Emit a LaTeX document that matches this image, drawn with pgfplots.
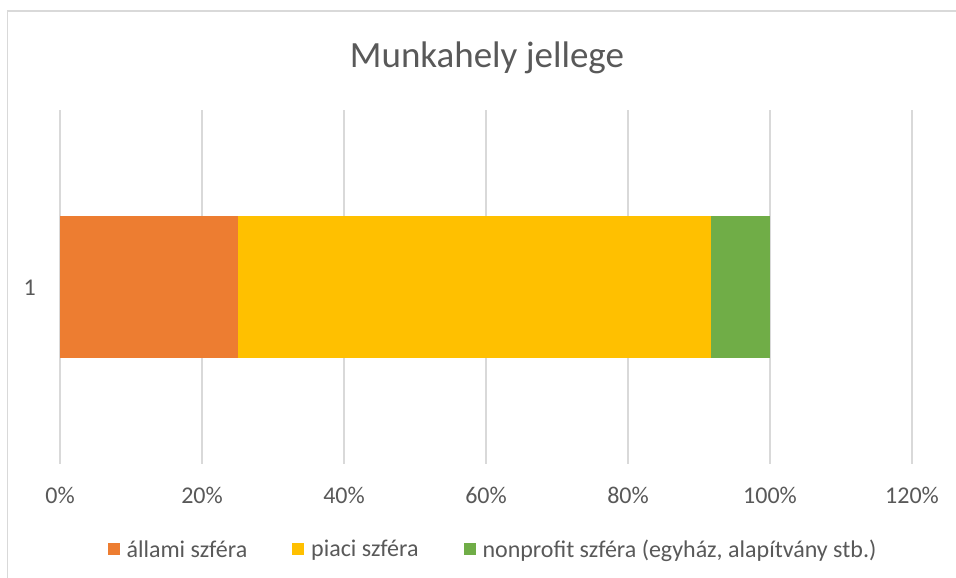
\documentclass[border=0pt]{standalone}
\usepackage{fontspec}
\setmainfont{Carlito}
\usepackage{pgfplots}
\pgfplotsset{compat=1.18}
\definecolor{xlorange}{HTML}{ED7D31}
\definecolor{xlyellow}{HTML}{FFC000}
\definecolor{xlgreen}{HTML}{70AD47}
\definecolor{xlgrid}{HTML}{D9D9D9}
\definecolor{xltext}{HTML}{595959}
\begin{document}
\begin{tikzpicture}[x=1pt,y=1pt]
\useasboundingbox (0,0) rectangle (956,578);
\fill[white] (0,0) rectangle (956,578);
% chart area border (only left and top edges fall inside the picture)
\draw[xlgrid, line width=1.5pt] (7.5,0) -- (7.5,567) -- (956,567);
\node[anchor=base, text=xltext, font=\fontsize{37}{44}\selectfont] at (487,510) {Munkahely jellege};
\begin{axis}[
  at={(60pt,114pt)}, anchor=south west,
  scale only axis, width=852pt, height=354pt,
  xbar stacked, bar width=0.4,
  xmin=0, xmax=120, ymin=0.5, ymax=1.5,
  xtick={0,20,40,60,80,100,120},
  xticklabels={0\%,20\%,40\%,60\%,80\%,100\%,120\%},
  ytick={1}, yticklabels={1},
  axis line style={draw=none}, major tick length=0pt,
  xmajorgrids, grid style={xlgrid, line width=1.3pt},
  /pgf/number format/assume math mode=true,
  tick label style={font=\fontsize{24}{28}\selectfont, text=xltext},
  xticklabel style={anchor=base, inner sep=0pt, yshift=-40pt},
  yticklabel style={anchor=base east, inner sep=0pt, xshift=-24pt, yshift=-8.5pt},
  legend style={draw=none, fill=none, at={(0.507,-0.2415)}, anchor=center,
    font=\fontsize{24}{28}\selectfont, text=xltext,
    nodes={inner sep=0pt},
    /tikz/every odd column/.append style={column sep=7pt},
    /tikz/every even column/.append style={column sep=45pt}},
  legend columns=-1,
  legend image code/.code={\fill[#1] (0pt,-6pt) rectangle (12pt,6pt);},
]
\addplot[fill=xlorange, draw=none] coordinates {(25.0,1)};
\addlegendentry{állami szféra}
\addplot[fill=xlyellow, draw=none] coordinates {(66.67,1)};
\addlegendentry{piaci szféra}
\addplot[fill=xlgreen, draw=none] coordinates {(8.33,1)};
\addlegendentry{nonprofit szféra (egyház, alapítvány stb.)}
\end{axis}
\end{tikzpicture}
\end{document}
